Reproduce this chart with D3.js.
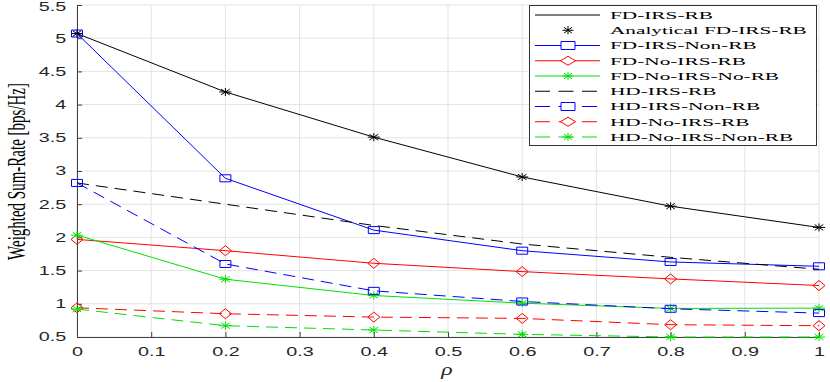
<!DOCTYPE html>
<html>
<head>
<meta charset="utf-8">
<script src="https://cdn.jsdelivr.net/npm/d3@7"></script>
<style>
  body { margin: 0; background: #fff; }
  svg { display: block; }
</style>
</head>
<body>
<svg id="chart" width="830" height="382"></svg>
<script>
// data
const rho = [0, 0.2, 0.4, 0.6, 0.8, 1];
const fdIrsRb = [5.07, 4.19, 3.51, 2.91, 2.47, 2.15];
const analyticalFdIrsRb = [5.07, 4.19, 3.51, 2.91, 2.47, 2.15];
const fdIrsNonRb = [5.07, 2.89, 2.11, 1.80, 1.63, 1.565];
const fdNoIrsRb = [1.97, 1.80, 1.61, 1.485, 1.375, 1.275];
const fdNoIrsNoRb = [2.035, 1.37, 1.125, 1.01, 0.93, 0.935];
const hdIrsRb = [2.82, 2.50, 2.18, 1.90, 1.70, 1.52];
const hdIrsNonRb = [2.82, 1.60, 1.195, 1.035, 0.925, 0.86];
const hdNoIrsRb = [0.94, 0.85, 0.80, 0.78, 0.685, 0.67];
const hdNoIrsNonRb = [0.92, 0.67, 0.605, 0.54, 0.50, 0.50];

const xTicks = [0, 0.1, 0.2, 0.3, 0.4, 0.5, 0.6, 0.7, 0.8, 0.9, 1];
const yTicks = [0.5, 1, 1.5, 2, 2.5, 3, 3.5, 4, 4.5, 5, 5.5];

const series = [
  { name: "FD-IRS-RB", values: fdIrsRb, color: "#000", dash: null, marker: null, line: true },
  { name: "Analytical FD-IRS-RB", values: analyticalFdIrsRb, color: "#000", dash: null, marker: "star", line: false },
  { name: "FD-IRS-Non-RB", values: fdIrsNonRb, color: "#0000ff", dash: null, marker: "square", line: true },
  { name: "FD-No-IRS-RB", values: fdNoIrsRb, color: "#ff0000", dash: null, marker: "diamond", line: true },
  { name: "FD-No-IRS-No-RB", values: fdNoIrsNoRb, color: "#00e000", dash: null, marker: "star", line: true },
  { name: "HD-IRS-RB", values: hdIrsRb, color: "#000", dash: "12,7", marker: null, line: true },
  { name: "HD-IRS-Non-RB", values: hdIrsNonRb, color: "#0000ff", dash: "12,7", marker: "square", line: true },
  { name: "HD-No-IRS-RB", values: hdNoIrsRb, color: "#ff0000", dash: "12,7", marker: "diamond", line: true },
  { name: "HD-No-IRS-Non-RB", values: hdNoIrsNonRb, color: "#00e000", dash: "12,7", marker: "star", line: true }
];

const plotLeft = 77, plotRight = 819, plotTop = 5, plotBottom = 337;
const svg = d3.select("#chart");

const x = d3.scaleLinear().domain([0, 1]).range([plotLeft, plotRight]);
const y = d3.scaleLinear().domain([0.5, 5.5]).range([plotBottom, plotTop]);

// grid
const grid = svg.append("g").attr("class", "grid");
grid.selectAll(".gx").data(xTicks).join("line")
  .attr("x1", d => x(d)).attr("x2", d => x(d))
  .attr("y1", plotTop).attr("y2", plotBottom)
  .attr("stroke", "#e3e3e3").attr("stroke-width", 1);
grid.selectAll(".gy").data(yTicks).join("line")
  .attr("x1", plotLeft).attr("x2", plotRight)
  .attr("y1", d => y(d)).attr("y2", d => y(d))
  .attr("stroke", "#e3e3e3").attr("stroke-width", 1);

// axes, ticks pointing inward
const xAxis = svg.append("g")
  .attr("transform", "translate(0," + plotBottom + ")")
  .call(d3.axisBottom(x).tickValues(xTicks).tickSize(-5).tickSizeOuter(0).tickFormat(d3.format("")));
const yAxis = svg.append("g")
  .attr("transform", "translate(" + plotLeft + ",0)")
  .call(d3.axisLeft(y).tickValues(yTicks).tickSize(-5).tickSizeOuter(0).tickFormat(d3.format("")));

[xAxis, yAxis].forEach(a => {
  a.select(".domain").attr("stroke", "#404040");
  a.selectAll(".tick line").attr("stroke", "#404040");
  a.selectAll("text")
    .attr("fill", "#262626")
    .style("font-family", "'Liberation Sans', Arial, sans-serif")
    .style("font-size", "12px");
});
xAxis.selectAll("text").attr("y", 10.8).attr("transform", "scale(1.65,1)");
yAxis.selectAll("text").attr("x", -6.5).attr("transform", "scale(1.65,1)");
// top label sits against the edge of the picture, as in the figure
yAxis.selectAll(".tick").filter(d => d === 5.5).select("text").attr("dy", "0.42em");

// markers
function markerPath(type, w, h) {
  const a = w / 2, b = h / 2;
  if (type === "square") {
    return `M${-a},${-b}H${a}V${b}H${-a}Z`;
  }
  if (type === "diamond") {
    return `M0,${-b}L${a},0L0,${b}L${-a},0Z`;
  }
  // star: plus and cross
  return `M${-a},0H${a}M0,${-b}V${b}M${-a * 0.72},${-b * 0.72}L${a * 0.72},${b * 0.72}M${-a * 0.72},${b * 0.72}L${a * 0.72},${-b * 0.72}`;
}
const markerSize = { square: [11, 7], diamond: [12, 10], star: [12, 8] };
const legendMarkerSize = { square: [14, 8], diamond: [15, 9], star: [11, 8] };

const line = d3.line().x(d => x(d[0])).y(d => y(d[1]));

const plot = svg.append("g").attr("class", "plot");
series.forEach(s => {
  const pts = rho.map((r, i) => [r, s.values[i]]);
  if (s.line) {
    plot.append("path")
      .datum(pts)
      .attr("d", line)
      .attr("fill", "none")
      .attr("stroke", s.color)
      .attr("stroke-width", 1)
      .attr("stroke-dasharray", s.dash);
  }
  if (s.marker) {
    const [w, h] = markerSize[s.marker];
    plot.selectAll(null).data(pts).join("path")
      .attr("transform", d => "translate(" + x(d[0]) + "," + y(d[1]) + ")")
      .attr("d", markerPath(s.marker, w, h))
      .attr("fill", "none")
      .attr("stroke", s.color)
      .attr("stroke-width", 1);
  }
});

// legend
const legend = svg.append("g").attr("class", "legend");
legend.append("rect")
  .attr("x", 529.5).attr("y", 5.5)
  .attr("width", 287).attr("height", 140)
  .attr("fill", "#fff").attr("stroke", "#333").attr("stroke-width", 1);

series.forEach((s, i) => {
  const ry = 15 + i * 15.25;
  const row = legend.append("g").attr("transform", "translate(0," + ry + ")");
  if (s.line) {
    row.append("line")
      .attr("x1", 535).attr("x2", s.dash ? 604 : 600).attr("y1", 0).attr("y2", 0)
      .attr("stroke", s.color).attr("stroke-width", 1)
      .attr("stroke-dasharray", s.dash ? "15,8.5" : null);
  }
  if (s.marker) {
    const [w, h] = legendMarkerSize[s.marker];
    row.append("path")
      .attr("transform", "translate(568,0)")
      .attr("d", markerPath(s.marker, w, h))
      .attr("fill", s.marker === "star" ? "none" : "#fff")
      .attr("stroke", s.color).attr("stroke-width", 1);
  }
  row.append("text")
    .attr("transform", "translate(610,3.8) scale(1.9,1)")
    .attr("fill", "#000")
    .style("font-family", "'Liberation Serif', 'Times New Roman', serif")
    .style("font-size", "11.2px")
    .text(s.name);
});

// axis titles
svg.append("text")
  .attr("transform", "translate(16,171.5) rotate(-90) scale(1,1.75)")
  .attr("text-anchor", "middle")
  .attr("dominant-baseline", "central")
  .attr("fill", "#000")
  .style("font-family", "'Liberation Serif', 'Times New Roman', serif")
  .style("font-size", "15px")
  .text("Weighted Sum-Rate [bps/Hz]");

svg.append("text")
  .attr("transform", "translate(447,375) scale(1.4,1)")
  .attr("text-anchor", "middle")
  .attr("fill", "#262626")
  .style("font-family", "'Liberation Serif', 'Times New Roman', serif")
  .style("font-style", "italic")
  .style("font-size", "17px")
  .text("ρ");
</script>
</body>
</html>
